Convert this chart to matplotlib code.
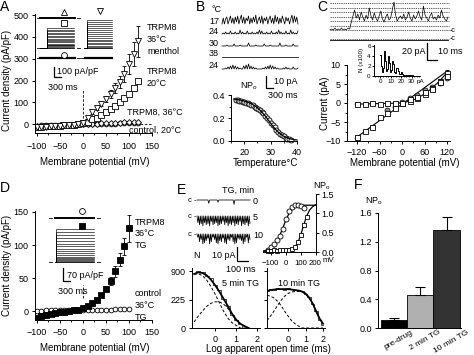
import numpy as np
import matplotlib
matplotlib.use('Agg')
import matplotlib.pyplot as plt
from matplotlib.ticker import MultipleLocator
from matplotlib.transforms import ScaledTranslation

plt.rcParams['font.family'] = ['Liberation Sans', 'DejaVu Sans']
plt.rcParams['mathtext.fontset'] = 'custom'
plt.rcParams['mathtext.rm'] = 'Liberation Sans'
plt.rcParams['mathtext.it'] = 'Liberation Sans:italic'
plt.rcParams['font.size'] = 6.5
plt.rcParams['axes.linewidth'] = 0.7
for a in ('xtick', 'ytick'):
    plt.rcParams[a + '.major.width'] = 0.7
    plt.rcParams[a + '.minor.width'] = 0.6
    plt.rcParams[a + '.major.size'] = 2.5
    plt.rcParams[a + '.minor.size'] = 1.5
    plt.rcParams[a + '.labelsize'] = 6.5
    plt.rcParams[a + '.major.pad'] = 2

W, H = 474, 355
NPO = 'NP$_{\\rm o}$'

# ---------------- data ----------------
# A: whole-cell I-V
mv_a = [-100, -90, -80, -70, -60, -50, -40, -30, -20, -10, 0, 10, 20, 30, 40, 50, 60, 70, 80, 90, 100, 110, 120]
menthol_36 = [-14, -12, -11, -9, -8, -6, -5, -3, -2, 0, 8, 30, 55, 75, 95, 115, 140, 165, 195, 230, 275, 320, 380]
menthol_36_err = [4, 4, 3, 3, 3, 3, 2, 2, 2, 2, 3, 6, 8, 10, 12, 15, 18, 22, 28, 35, 45, 55, 70]
trpm8_20 = [-12, -11, -10, -9, -8, -7, -5, -4, -3, -1, 5, 12, 22, 30, 42, 55, 68, 85, 100, 120, 140, 168, 200]
trpm8_20_err = [3, 3, 3, 3, 2, 2, 2, 2, 2, 2, 2, 2, 3, 3, 3, 4, 4, 5, 5, 6, 7, 7, 8]
trpm8_36 = [-10, -9, -8, -7, -6, -5, -4, -3, -2, -1, 0, 1, 2, 3, 4, 5, 6, 7, 8, 9, 10, 11, 12]
trpm8_36_err = [6, 6, 5, 5, 5, 4, 4, 4, 3, 3, 3, 3, 3, 3, 3, 3, 3, 3, 3, 3, 3, 3, 3]
ctrl_20 = [-6, -5, -5, -4, -4, -3, -3, -2, -2, -1, 0, 1, 1, 2, 2, 3, 3, 3, 4, 4, 5, 5, 6]
ctrl_20_err = [5, 5, 4, 4, 4, 4, 3, 3, 3, 3, 2, 2, 2, 2, 2, 2, 2, 2, 2, 2, 2, 2, 2]
# current families in the A inset (step size, px)
fam_a_left = [20, 18.5, 17, 15.5, 14, 12.5, 11, 9.5, 8, 6.8, 5.6, 4.5, 3.5, 2.6, 1.8, 1.1, 0.5, 0]
fam_a_right = [28, 26, 24, 22, 20, 18, 16, 14, 12, 10, 8.3, 6.7, 5.2, 3.8, 2.5, 1.3, 0.4, 0]

# B: single channel traces at 17, 24, 30, 38, 24 degC and NPo vs temperature
trace_labels_b = ['17', '24', '30', '38', '24']
traces_b = [
    "0605704816072805917063806172904718063705816092706184073605918270",
    "0102010301020104020103010201020403010201030102040201030104020103",
    "0000100000200001000000300000100000020000100000003000010000020000",
    "0000000000000000000000000000000000000000000000000000000000000000",
    "0001020304030201003040503020100000102030403020100001020100020001",
]
temp_b = [17.0, 17.5, 18.2, 18.8, 19.5, 20.1, 20.8, 21.4, 22.0, 22.7, 23.3, 24.0, 24.6, 25.3, 26.0, 26.6,
          27.3, 28.0, 28.7, 29.4, 30.1, 30.8, 31.5, 32.2, 32.9, 33.6, 34.3, 35.0, 35.7, 36.4, 37.1, 37.8]
npo_b = [0.36, 0.36, 0.35, 0.35, 0.34, 0.34, 0.33, 0.33, 0.32, 0.31, 0.31, 0.30, 0.29, 0.28, 0.27, 0.25,
         0.24, 0.22, 0.20, 0.18, 0.16, 0.14, 0.12, 0.10, 0.08, 0.065, 0.05, 0.04, 0.03, 0.02, 0.015, 0.01]
fit_temp_b = [16, 17, 18, 19, 20, 21, 22, 23, 24, 25, 26, 27, 28, 29, 30, 31, 32, 33, 34, 35, 36, 37, 38, 39, 40]
fit_npo_b = [0.365, 0.362, 0.358, 0.353, 0.347, 0.34, 0.331, 0.32, 0.306, 0.289, 0.268, 0.244, 0.216, 0.186,
             0.155, 0.125, 0.098, 0.075, 0.056, 0.041, 0.03, 0.022, 0.016, 0.012, 0.009]

# C: single channel trace, amplitude histogram, unitary I-V
trace_c = [0, 1, 0, 2, 0, 1, 0, 2, 0, 1, 0, 2, 1, 8, 14, 20, 12, 16, 10, 18, 13, 9, 15, 11, 22, 14, 10, 17,
           12, 9, 14, 19, 11, 8, 13, 16, 10, 12, 20, 28, 15, 9, 12, 14, 11, 16, 10, 13, 18, 12, 9, 15, 11,
           14, 19, 13, 10, 24, 15, 12, 9, 14, 17, 11, 13, 10, 15, 12, 20, 14, 11, 9, 13]
levels_c = [0, 4.5, 9, 13.5, 18, 22.5, 27]
amp_c = [0, 1, 2, 3, 4, 5, 6, 7, 8, 9, 10, 11, 12, 13, 14, 15, 16, 17, 18, 19, 20, 21, 22, 23, 24, 25, 26,
         27, 28, 29, 30, 31, 32, 33, 34]
hist_c = [4.3, 2.0, 0.8, 1.6, 5.1, 3.0, 1.0, 1.4, 4.0, 2.6, 0.9, 1.2, 3.0, 2.4, 0.8, 0.6, 1.6, 1.0, 0.4,
          0.5, 0.9, 0.5, 0.3, 0.3, 0.3, 0.2, 0.3, 0.2, 0.2, 0.2, 0.1, 0.2, 0.1, 0.1, 0.1]
mv_c = [-120, -100, -80, -60, -40, -20, 0, 20, 40, 60, 80, 100, 120]
i_out = [-0.2, -0.2, -0.1, -0.2, -0.1, 0.0, 0.0, 0.6, 1.2, 2.5, 4.0, 5.8, 8.0]
i_out_err = [0.4, 0.4, 0.3, 0.3, 0.3, 0.3, 0.3, 0.3, 0.4, 0.4, 0.5, 0.6, 0.7]
i_lin = [-8.9, -7.4, -6.3, -3.7, -2.5, -1.2, 0.0, 1.0, 1.6, 2.8, 3.7, 5.5, 7.2]
i_lin_err = [0.5, 0.4, 0.5, 0.4, 0.3, 0.3, 0.3, 0.3, 0.3, 0.4, 0.5, 0.6, 1.0]
mv_c_circ = [-40, -20, 0, 20, 40, 60, 80, 100, 120]
i_circ = [-1.8, -1.0, 0.2, 1.3, 2.1, 3.4, 4.2, 5.3, 6.5]
lin_v = [-125, 122]
lin_i = [-9.3, 8.5]
ghk_v = [-125, -100, -80, -60, -40, -20, 0, 20, 40, 60, 80, 100, 122]
ghk_i = [-0.3, -0.25, -0.2, -0.15, -0.1, -0.05, 0.0, 0.5, 1.2, 2.4, 3.9, 5.8, 8.2]

# D: TG at 36 degC
mv_d = [-100, -90, -80, -70, -60, -50, -40, -30, -20, -10, 0, 10, 20, 30, 40, 50, 60, 70, 80, 90, 100]
tg_36 = [-10, -8, -6, -5, -3, -2, -1, 0, 1, 2, 4, 7, 12, 17, 25, 34, 46, 60, 78, 98, 125]
tg_36_err = [2, 2, 2, 1, 1, 1, 1, 1, 1, 1, 1, 1, 2, 2, 3, 4, 6, 8, 10, 13, 20]
ctrl_tg_36 = [0.5, 0.5, 1, 1, 1, 1, 1, 1, 1, 1, 1.5, 2, 2, 2, 2, 2, 2, 2.5, 2.5, 2.5, 3]
fam_d = [33, 30, 27, 24, 21, 18.5, 16, 13.5, 11, 9, 7, 5.5, 4, 2.8, 1.8, 1, 0.4, 0]

# E: traces after TG, NPo-V, open time histograms
trace_labels_e = ['0', '5', '10']
traces_e = [
    "0000000000000030000000000200000000000000000040000000000000000000",
    "0608070906080709050807060908070508060907080609070805090708060907",
    "0307050908060409070305080906070408090506030709080405060907030805",
]
mv_e = [-120, -100, -80, -60, -40, -20, 0, 20, 40, 60, 80, 100, 120]
npo_e_circ = [0.05, 0.12, 0.2, 0.3, 0.42, 0.6, 0.85, 1.05, 1.17, 1.22, 1.22, 1.18, 1.15]
fit_e1_v = [-150, -120, -100, -80, -60, -40, -20, 0, 20, 40, 60, 80, 100, 130, 160, 200]
fit_e1 = [0.02, 0.05, 0.1, 0.17, 0.27, 0.41, 0.6, 0.8, 0.97, 1.09, 1.16, 1.19, 1.2, 1.21, 1.21, 1.21]
mv_e_sq = [-120, -100, -80, -60, -40, -20, 0, 20, 40, 60, 80, 100, 120, 140]
npo_e_sq = [0.03, 0.02, 0.04, 0.03, 0.05, 0.04, 0.05, 0.06, 0.08, 0.12, 0.25, 0.44, 0.7, 0.9]
fit_e2_v = [-150, -100, -50, 0, 20, 40, 60, 80, 100, 120, 140, 160, 180, 200]
fit_e2 = [0.02, 0.02, 0.03, 0.04, 0.05, 0.07, 0.12, 0.22, 0.42, 0.68, 0.92, 1.08, 1.17, 1.22]

logt_5 = [-1.0, -0.8, -0.6, -0.4, -0.2, 0.0, 0.2, 0.4, 0.6, 0.8, 1.0, 1.2, 1.4, 1.6]
hist_5 = [850, 900, 870, 760, 700, 520, 400, 240, 140, 50, 20, 4, 0, 0]
fit_5 = [810, 860, 840, 770, 650, 510, 370, 240, 138, 58, 20, 5, 1, 0]
fast_5 = [800, 820, 760, 640, 480, 320, 180, 80, 28, 8, 2, 0, 0, 0]
slow_5 = [10, 40, 80, 130, 170, 190, 190, 160, 110, 50, 18, 5, 1, 0]
logt_10 = [-1.2, -1.0, -0.8, -0.6, -0.4, -0.2, 0.0, 0.2, 0.4, 0.6, 0.8, 1.0, 1.2, 1.4, 1.6, 1.8, 2.0]
hist_10 = [390, 420, 400, 440, 430, 410, 440, 420, 400, 410, 380, 330, 270, 160, 80, 20, 3]
fit_10 = [380, 400, 410, 420, 420, 420, 420, 410, 400, 390, 370, 330, 260, 170, 80, 25, 5]
fast_10 = [300, 280, 250, 200, 140, 80, 40, 15, 5, 1, 0, 0, 0, 0, 0, 0, 0]
slow_10 = [15, 40, 80, 140, 210, 280, 330, 360, 370, 370, 360, 320, 255, 165, 80, 25, 5]

# F: NPo summary
f_labels = ['pre-drug', '2 min TG', '10 min TG']
f_npo = [0.11, 0.46, 1.37]
f_err = [0.03, 0.11, 0.18]
f_colors = ['black', '#b0b0b0', '#333333']


# ---------------- helpers ----------------
fig = plt.figure(figsize=(W / 100, H / 100), dpi=100)


def box(x0, y0, x1, y1):
    """Axes from a pixel box (top-left origin)."""
    return fig.add_axes([x0 / W, 1 - y1 / H, (x1 - x0) / W, (y1 - y0) / H])


def px_panel(x0, y0, x1, y1):
    """Axes without frame whose data units are figure pixels."""
    ax = box(x0, y0, x1, y1)
    ax.set_xlim(x0, x1)
    ax.set_ylim(y1, y0)
    ax.axis('off')
    return ax


def label(x, y, s, ha='left', va='center', size=6.5, **kw):
    fig.text(x / W, 1 - y / H, s, ha=ha, va=va, fontsize=size, **kw)


def letter(x, y, s):
    label(x, y, s, va='top', size=10)


def frame(ax, spines=('left', 'bottom')):
    for s in ('left', 'right', 'top', 'bottom'):
        ax.spines[s].set_visible(s in spines)
    ax.tick_params(direction='out', which='both')
    ax.patch.set_alpha(0)


def scalebar(ax, x, y_top, y_bot, x_end):
    ax.plot([x, x, x_end], [y_top, y_bot, y_bot], color='k', lw=0.9, solid_joinstyle='miter')


def step_family(ax, levels, x0, x_step, x1, base, lw=0.45):
    for lv in levels:
        ax.plot([x0, x_step, x_step, x1], [base, base, base - lv, base - lv], color='k', lw=lw)


def trace(ax, s, x0, x1, base, scale=1.0, sign=-1, lw=0.55):
    vals = np.array([float(c) for c in s]) if isinstance(s, str) else np.asarray(s, float)
    t = np.linspace(x0, x1, len(vals))
    ax.plot(t, base + sign * vals * scale, color='k', lw=lw)


errkw = dict(ecolor='k', elinewidth=0.6, capsize=1.6, capthick=0.6, mec='k', mew=0.6, ls='none')

# ---------------- panel A ----------------
letter(0, 0, 'A')
axA = box(35, 14, 152, 133)
frame(axA)
axA.set_xlim(-104, 150)
axA.set_ylim(-40, 505)
axA.set_xticks([-100, -50, 0, 50, 100, 150])
axA.set_yticks([0, 100, 200, 300, 400, 500])
axA.xaxis.set_minor_locator(MultipleLocator(25))
axA.tick_params(axis='x', pad=4)
axA.errorbar(mv_a, ctrl_20, yerr=ctrl_20_err, fmt='o', ms=3.4, mfc='white', **errkw)
axA.errorbar(mv_a, trpm8_36, yerr=trpm8_36_err, fmt='D', ms=3.0, mfc='white', **errkw)
axA.errorbar(mv_a, trpm8_20, yerr=trpm8_20_err, fmt='s', ms=3.8, mfc='white', **errkw)
axA.errorbar(mv_a, menthol_36, yerr=menthol_36_err, fmt='v', ms=4.5, mfc='white', **errkw)
axA.axvline(0, ymin=0.13, ymax=0.36, color='k', lw=0.6, ls=(0, (3, 2)))
axA.axhline(0, xmin=0.86, xmax=1.0, color='k', lw=0.6, ls=(0, (3, 2)))
label(7, 80, 'Current density (pA/pF)', ha='center', rotation=90, size=7)
label(95, 162, 'Membrane potential (mV)', ha='center', size=7)
label(147, 28, 'TRPM8')
label(147, 40, '36°C')
label(147, 52, 'menthol')
label(147, 72, 'TRPM8')
label(147, 84, '20°C')
label(127, 112, 'TRPM8, 36°C')
label(129, 130, 'control, 20°C')

axAi = px_panel(34, 4, 116, 92)
axAi.plot([40, 75], [18, 18], color='k', lw=1.4)
axAi.plot([40, 75], [58, 58], color='k', lw=1.6)
axAi.plot([85, 112], [58, 58], color='k', lw=1.6)
step_family(axAi, fam_a_left, 40, 47, 74, 48)
step_family(axAi, fam_a_right, 84, 87, 112, 48)
for y0 in (18, 48, 58):
    axAi.plot([36.5, 39], [y0, y0], color='k', lw=0.6)
    axAi.plot([76.5, 79.5], [y0, y0], color='k', lw=0.6)
axAi.plot([81, 83.5], [58, 58], color='k', lw=0.6)
axAi.plot(64, 12, marker='^', ms=5, mfc='white', mec='k', mew=0.6)
axAi.plot(64, 23, marker='s', ms=4.2, mfc='white', mec='k', mew=0.6)
axAi.plot(64, 55, marker='o', ms=4.2, mfc='white', mec='k', mew=0.6)
axAi.plot(100, 11, marker='v', ms=5, mfc='white', mec='k', mew=0.6)
scalebar(axAi, 54, 67, 77, 61)
label(57, 72, '100 pA/pF')
label(48, 87, '300 ms')

# ---------------- panel B ----------------
letter(196, 0, 'B')
label(211, 10, '°C')
axBt = px_panel(200, 10, 300, 100)
for i, (s, lab) in enumerate(zip(traces_b, trace_labels_b)):
    base = [24, 34, 46, 57, 69][i]
    trace(axBt, s, 222, 298, base, scale=1.0)
    label(219, base - 3, lab, ha='right')
scalebar(axBt, 266, 76, 88, 273)
label(274, 82, '10 pA')
label(283, 96, '300 ms', ha='center')

axB = box(231, 95, 297, 141)
frame(axB)
axB.set_xlim(15, 40)
axB.set_ylim(0, 0.4)
axB.set_xticks([20, 30, 40])
axB.set_yticks([0.0, 0.2, 0.4])
axB.set_yticklabels(['0.0', '0.2', '0.4'])
axB.xaxis.set_minor_locator(MultipleLocator(5))
axB.yaxis.set_minor_locator(MultipleLocator(0.1))
axB.tick_params(axis='x', pad=2.5)
axB.plot(temp_b, npo_b, 'o', ms=3.6, mfc='white', mec='k', mew=0.6, clip_on=False)
axB.plot(fit_temp_b, fit_npo_b, color='k', lw=0.9, clip_on=False)
label(240, 86, NPO, ha='left')
label(265, 163, 'Temperature°C', ha='center', size=7)

# ---------------- panel C ----------------
letter(317, 0, 'C')
axCt = px_panel(325, 0, 474, 44)
for lv in levels_c:
    axCt.plot([330, 449], [30 - lv, 30 - lv], color='k', lw=0.45, ls=(0, (2, 1.5)))
axCt.plot([330, 449], [39, 39], color='k', lw=0.45, ls=(0, (2, 1.5)))
trace(axCt, trace_c, 330, 448, 30, scale=1.0, lw=0.5)
axCt.plot([330, 448], [39.6, 39.6], color='k', lw=0.6)
label(450, 31, '-c', size=5)
label(450, 39, '-c', size=5)
axCs = px_panel(400, 40, 474, 62)
scalebar(axCs, 427, 43, 60, 437)
label(425, 52, '20 pA', ha='right')
label(438, 52, '10 ms')

axCh = box(374, 45, 420, 76)
frame(axCh)
axCh.set_xlim(-6, 38)
axCh.set_ylim(0, 6.3)
axCh.step(amp_c, hist_c, where='mid', color='k', lw=0.7)
axCh.set_xticks([0, 10, 20, 30])
axCh.set_yticks([0, 2, 4, 6])
axCh.xaxis.set_minor_locator(MultipleLocator(2.5))
axCh.tick_params(labelsize=4.5, length=1.6, pad=0.8)
axCh.tick_params(which='minor', length=1.0)
label(417, 82, 'pA', size=4.5)
label(362, 60, 'N (x100)', ha='center', rotation=90, size=4.5)

axC = box(347, 65, 450, 141)
frame(axC)
axC.set_xlim(-147, 128)
axC.set_ylim(-10, 10)
axC.set_xticks([-120, -60, 0, 60, 120])
axC.set_yticks([-10, -5, 0, 5, 10])
axC.xaxis.set_minor_locator(MultipleLocator(30))
axC.yaxis.set_minor_locator(MultipleLocator(2.5))
axC.tick_params(axis='x', pad=2.5)
axC.plot(lin_v, lin_i, color='k', lw=0.8)
axC.plot(ghk_v, ghk_i, color='k', lw=0.8)
axC.errorbar(mv_c, i_out, yerr=i_out_err, fmt='s', ms=3.6, mfc='white', clip_on=False, **errkw)
axC.errorbar(mv_c, i_lin, yerr=i_lin_err, fmt='s', ms=3.6, mfc='white', clip_on=False, **errkw)
axC.plot(mv_c_circ, i_circ, 'o', ms=3.6, mfc='#8a8a8a', mec='k', mew=0.5)
label(325, 103, 'Current (pA)', ha='center', rotation=90, size=7)
label(405, 163, 'Membrane potential (mV)', ha='center', size=7)

# ---------------- panel D ----------------
letter(0, 181, 'D')
axD = box(35, 211, 152, 320)
frame(axD)
axD.set_xlim(-104, 150)
axD.set_ylim(-13.6, 151.5)
axD.set_xticks([-100, -50, 0, 50, 100, 150])
axD.set_yticks([0, 50, 100, 150])
axD.xaxis.set_minor_locator(MultipleLocator(25))
axD.tick_params(axis='x', pad=3)
axD.errorbar(mv_d, ctrl_tg_36, yerr=None, fmt='o', ms=3.4, mfc='white', **errkw)
axD.errorbar(mv_d, tg_36, yerr=tg_36_err, fmt='s', ms=3.8, mfc='black', **errkw)
axD.axvline(0, ymin=0.2, ymax=0.32, color='k', lw=0.6, ls=(0, (3, 2)))
label(7, 265, 'Current density (pA/pF)', ha='center', rotation=90, size=7)
label(95, 348, 'Membrane potential (mV)', ha='center', size=7)
label(135, 222, 'TRPM8')
label(135, 234, '36°C')
label(135, 246, 'TG')
label(135, 293, 'control')
label(135, 306, '36°C')
label(135, 318, 'TG')

axDi = px_panel(44, 200, 110, 290)
axDi.plot([55, 94], [218, 218], color='k', lw=1.4)
step_family(axDi, fam_d, 55, 56, 94, 262)
for y0 in (218, 262):
    axDi.plot([49, 52.5], [y0, y0], color='k', lw=0.6)
    axDi.plot([96.5, 100], [y0, y0], color='k', lw=0.6)
axDi.plot(82, 211, marker='o', ms=4.2, mfc='white', mec='k', mew=0.6)
axDi.plot(82, 226, marker='s', ms=4.2, mfc='black', mec='k', mew=0.6)
scalebar(axDi, 63, 268, 281, 70)
label(67, 276, '70 pA/pF')
label(58, 292, '300 ms')

# ---------------- panel E ----------------
letter(177, 183, 'E')
label(222, 190, 'TG, min')
axEt = px_panel(180, 192, 262, 275)
for i, (s, lab) in enumerate(zip(traces_e, trace_labels_e)):
    base = [200, 216, 234][i]
    trace(axEt, s, 197, 250, base, scale=1.1, sign=1)
    label(188, base, 'c -', size=5.5)
    label(253, base + 1, lab)
scalebar(axEt, 237, 247, 261, 248)
label(236, 255, '10 pA', ha='right')
label(241, 270, '100 ms', ha='center')

axEn = box(263, 194, 315.5, 252)
frame(axEn, spines=('right', 'bottom'))
axEn.yaxis.tick_right()
axEn.set_xlim(-150, 200)
axEn.set_ylim(0, 1.5)
axEn.set_xticks([-100, 0, 100, 200])
axEn.set_yticks([0.0, 0.5, 1.0, 1.5])
axEn.set_yticklabels(['0.0', '0.5', '1.0', '1.5'])
axEn.tick_params(axis='x', pad=3, labelsize=5.6)
axEn.plot(fit_e1_v, fit_e1, color='k', lw=0.9)
axEn.plot(fit_e2_v, fit_e2, color='k', lw=0.9)
axEn.plot(mv_e, npo_e_circ, 'o', ms=3.6, mfc='white', mec='k', mew=0.6, clip_on=False)
axEn.plot(mv_e_sq, npo_e_sq, 's', ms=3.4, mfc='white', mec='k', mew=0.6, clip_on=False)
label(313, 186, NPO)
label(323, 261, 'mV', size=5.6)

fwd = (lambda v: np.sqrt(np.clip(v, 0, None)), lambda v: np.square(v))
for (x0, x1, lo, hi, t, hst, fit, fast, slow, name, nx) in (
        (192, 260, -1.1, 2.14, logt_5, hist_5, fit_5, fast_5, slow_5, '5 min TG', 222),
        (267, 325, -1.2, 2.11, logt_10, hist_10, fit_10, fast_10, slow_10, '10 min TG', 278)):
    ax = box(x0, 268, x1, 328)
    frame(ax)
    ax.set_yscale('function', functions=fwd)
    ax.set_xlim(lo, hi)
    ax.set_ylim(0, 1000)
    ax.set_xticks([0, 1, 2])
    ax.set_yticks([0, 225, 900])
    if x0 > 200:
        ax.set_yticklabels([])
    ax.tick_params(axis='x', pad=2.5)
    ax.plot(t, hst, color='k', lw=0.5, drawstyle='steps-mid')
    ax.plot(t, fit, color='k', lw=1.3)
    ax.plot(t, fast, color='k', lw=0.7, ls=(0, (3, 2)))
    ax.plot(t, slow, color='k', lw=0.7, ls=(0, (3, 2)))
    label(nx, 283, name)
label(193, 256, 'N')
label(268, 349, 'Log apparent open time (ms)', ha='center', size=7)

# ---------------- panel F ----------------
letter(354, 178, 'F')
axF = box(378, 213, 461, 328)
frame(axF)
axF.set_xlim(-0.6, 2.55)
axF.set_ylim(0, 1.6)
xf = np.arange(len(f_labels))
axF.bar(xf, f_npo, width=1.0, color=f_colors, edgecolor='k', linewidth=0.6)
axF.errorbar(xf, f_npo, yerr=[[0, 0, 0], f_err], fmt='none', ecolor='k', elinewidth=0.8,
             capsize=3.5, capthick=0.8)
axF.set_xticks(xf)
axF.set_xticklabels(f_labels, rotation=30, ha='center', fontsize=6)
axF.tick_params(axis='x', length=0, pad=0.5)
shift = ScaledTranslation(5 / 100, 0, fig.dpi_scale_trans)
for tl in axF.get_xticklabels():
    tl.set_transform(tl.get_transform() + shift)
axF.set_yticks([0.0, 0.4, 0.8, 1.2, 1.6])
axF.set_yticklabels(['0.0', '0.4', '0.8', '1.2', '1.6'])
label(365, 201, NPO)

fig.savefig('out.png', dpi=100)
